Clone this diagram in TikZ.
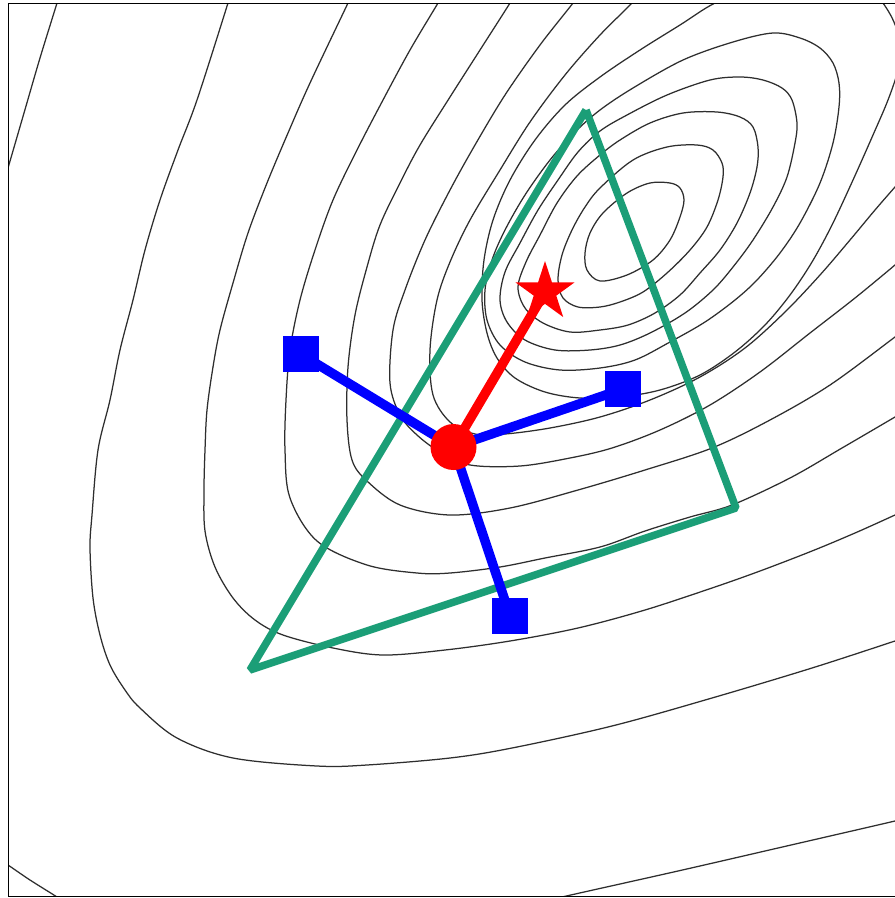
\documentclass[tikz,border=0pt]{standalone}
\usetikzlibrary{shapes.geometric}
\definecolor{tgreen}{RGB}{27,158,119}
\tikzset{
  cont/.style={line width=1.25pt, black!82, line join=round},
  tri/.style={line width=7.5pt, tgreen, line join=bevel, line cap=butt},
  bline/.style={line width=9.5pt, blue},
  rline/.style={line width=9.5pt, red},
  sqmark/.style={rectangle, fill=blue, minimum size=36pt, inner sep=0pt},
  circmark/.style={circle, fill=red, minimum size=46pt, inner sep=0pt},
  starmark/.style={star, star points=5, star point ratio=2.618, fill=red, minimum size=62pt, inner sep=0pt},
}
\begin{document}
\begin{tikzpicture}[x=1pt,y=-1pt]
\useasboundingbox (0,0) rectangle (895,898);
\fill[white] (0,0) rectangle (895,898);
\begin{scope}
\clip (8.5,3.5) rectangle (896,896.5);
% closed loops
\draw[cont] plot[smooth cycle, tension=0.55] coordinates {(585,253) (590,233) (603,213) (627,193) (650,183) (670,183) (680,188) (684,200) (680,217) (670,240) (653,260) (627,275) (600,281) (587,270)};
\draw[cont] plot[smooth cycle, tension=0.55] coordinates {(600,188) (633,160) (667,147) (697,145) (713,150) (722,163) (723,177) (718,200) (707,227) (690,250) (667,273) (643,292) (620,302) (600,307) (578,307) (563,298) (558,280) (562,255) (572,230) (585,207)};
\draw[cont] plot[smooth cycle, tension=0.55] coordinates {(600,155) (620,140) (650,123) (683,113) (717,112) (740,117) (753,127) (758,147) (757,167) (750,193) (737,223) (720,250) (700,273) (680,295) (655,313) (628,325) (600,330) (570,332) (543,323) (525,308) (518,287) (526,262) (540,235) (557,203) (577,176)};
\draw[cont] plot[smooth cycle, tension=0.55] coordinates {(600,131) (627,115) (667,95) (710,80) (740,77) (763,80) (782,88) (792,100) (797,123) (795,143) (787,177) (773,207) (753,240) (733,267) (713,290) (685,313) (650,333) (620,345) (590,350) (555,350) (525,340) (507,322) (500,300) (505,272) (520,243) (538,210) (558,180) (578,152)};
\draw[cont] plot[smooth cycle, tension=0.55] coordinates {(600,110) (633,88) (683,60) (733,42) (773,33) (800,38) (820,48) (833,63) (839,83) (839,107) (833,143) (820,183) (800,223) (780,253) (757,280) (735,300) (705,322) (670,342) (635,360) (600,368) (560,370) (525,362) (500,345) (487,320) (485,290) (492,260) (505,230) (525,195) (550,160) (575,132)};
\draw[cont] plot[smooth cycle, tension=0.55] coordinates {(715,3) (680,25) (640,50) (600,77) (565,105) (535,140) (510,180) (493,220) (484,260) (482,300) (487,333) (497,358) (515,378) (545,392) (580,398) (620,397) (660,390) (700,375) (735,352) (765,325) (790,295) (812,262) (832,225) (853,180) (873,135) (888,100) (898,70) (901,45) (890,14) (870,-8) (820,-25) (760,-15)};
% open contours
\draw[cont] plot[smooth, tension=0.55] coordinates {(640,-8) (632,3) (600,35) (565,75) (530,122) (500,170) (470,220) (450,262) (437,300) (430,350) (433,395) (450,422) (475,434) (505,434) (550,428) (600,417) (650,400) (700,377) (745,348) (785,312) (820,275) (850,240) (875,210) (895,187) (910,170)};
\draw[cont] plot[smooth, tension=0.55] coordinates {(580,-8) (573,3) (540,45) (505,95) (475,145) (450,190) (425,240) (405,290) (393,330) (390,383) (400,415) (417,435) (440,452) (470,465) (520,466) (570,458) (612,448) (660,430) (710,405) (760,372) (810,333) (855,298) (895,265) (910,252)};
\draw[cont] plot[smooth, tension=0.55] coordinates {(516,-8) (510,3) (480,50) (450,97) (420,145) (400,183) (380,225) (367,267) (355,315) (348,367) (347,420) (352,460) (367,481) (400,505) (450,515) (510,508) (578,490) (645,470) (712,448) (770,420) (830,385) (895,337) (910,326)};
\draw[cont] plot[smooth, tension=0.55] coordinates {(444,-8) (438,3) (410,50) (383,100) (357,150) (333,200) (315,250) (300,300) (290,350) (286,400) (285,450) (290,498) (317,541) (367,565) (417,573) (450,573) (500,567) (545,558) (600,547) (645,531) (690,517) (732,505) (790,478) (842,448) (895,417) (910,408)};
\draw[cont] plot[smooth, tension=0.55] coordinates {(353,-8) (348,3) (310,83) (288,133) (267,183) (248,233) (233,283) (220,330) (213,367) (207,410) (205,450) (204,490) (205,531) (215,567) (233,598) (255,620) (283,635) (333,648) (383,655) (445,650) (510,641) (578,628) (645,610) (712,588) (760,571) (812,551) (855,533) (895,515) (910,508)};
\draw[cont] plot[smooth, tension=0.55] coordinates {(231,-8) (228,3) (197,100) (178,150) (160,200) (145,250) (133,300) (120,350) (110,400) (98,450) (92,515) (90,548) (93,598) (100,635) (110,665) (125,690) (140,708) (177,738) (233,758) (317,766) (367,765) (450,758) (512,748) (612,726) (712,698) (812,668) (895,641) (910,636)};
\draw[cont] plot[smooth, tension=0.55] coordinates {(60,-8) (57,3) (40,58) (24,113) (8,168) (3,185)};
\draw[cont] plot[smooth, tension=0.55] coordinates {(0,860) (8,865) (30,880) (57,897) (65,903)};
\draw[cont] plot[smooth, tension=0.55] coordinates {(530,905) (562,897) (678,871) (778,848) (895,821) (910,817)};
\end{scope}
% frame (right side lies just beyond the cropped edge)
\draw[line width=1.2pt, black] (8.5,3.5) rectangle (896.2,896.5);
% simplex
\coordinate (v1) at (586,110);
\coordinate (v2) at (250,670);
\coordinate (v3) at (736,508);
\draw[tri] (v1) -- (v2) -- (v3) -- (v1);
% points
\coordinate (c) at (453.5,447);
\coordinate (s1) at (300.5,354);
\coordinate (s2) at (623,389);
\coordinate (s3) at (510,615.5);
\coordinate (st) at (545,292);
\draw[bline] (c) -- (s1);
\draw[bline] (c) -- (s2);
\draw[bline] (c) -- (s3);
\draw[rline] (c) -- (st);
\node[sqmark] (q1) at (s1) {};
\node[sqmark] (q2) at (s2) {};
\node[sqmark] (q3) at (s3) {};
\node[starmark] (sm) at (st) {};
\node[circmark] (cm) at (c) {};
\end{tikzpicture}
\end{document}
